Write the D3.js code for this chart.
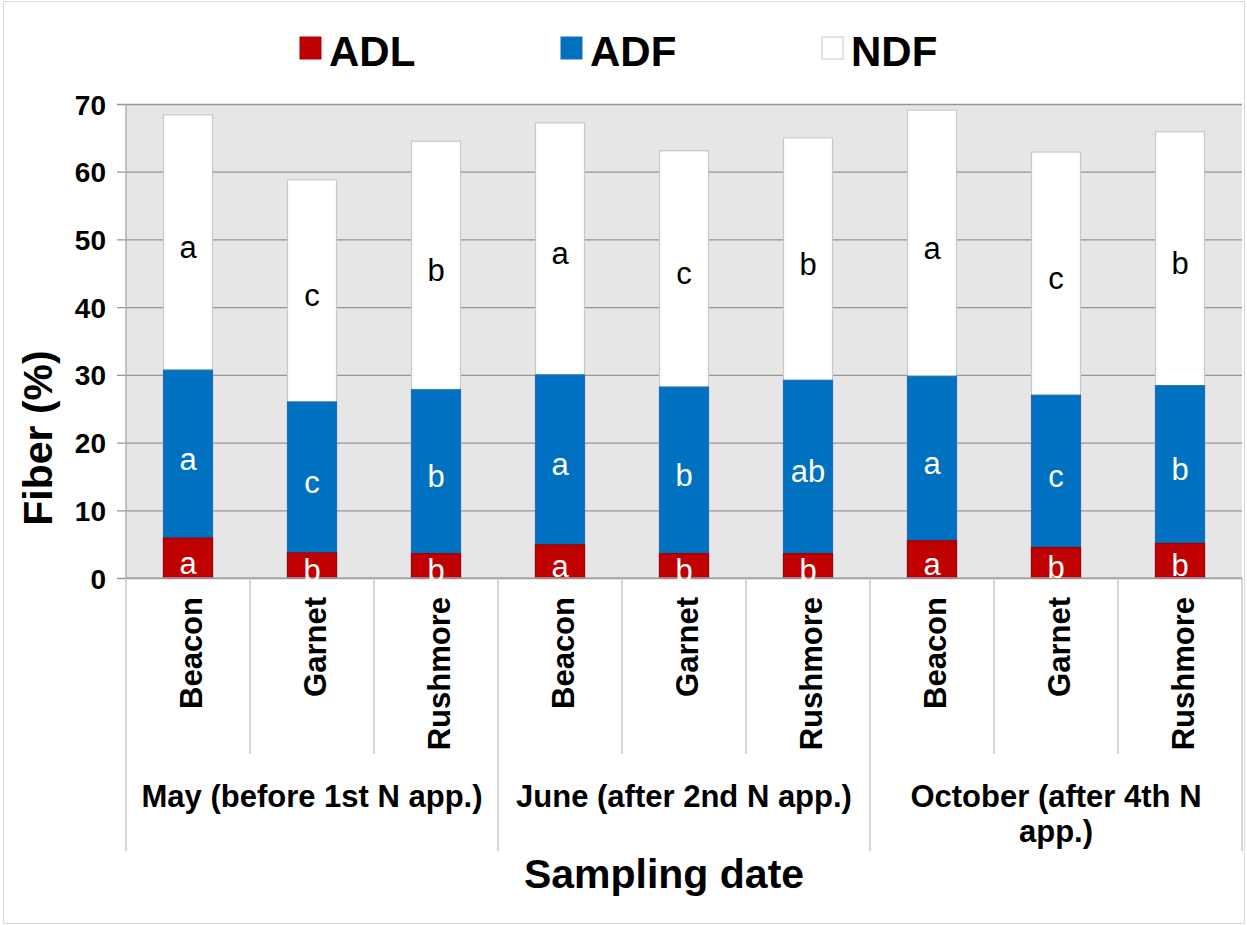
<!DOCTYPE html>
<html>
<head>
<meta charset="utf-8">
<script src="https://cdn.jsdelivr.net/npm/d3@7/dist/d3.min.js"></script>
<style>
  html, body { margin: 0; padding: 0; background: #fff; }
  svg { display: block; font-family: "Liberation Sans", Arial, sans-serif; }
</style>
</head>
<body>
<svg id="chart" width="1247" height="925"></svg>
<script>
// ---- data ----
const groups = ["May (before 1st N app.)", "June (after 2nd N app.)", "October (after 4th N app.)"];
const varieties = ["Beacon", "Garnet", "Rushmore"];
const seriesNames = ["ADL", "ADF", "NDF"];
const seriesColors = ["#C00000", "#0070C0", "#FFFFFF"];
const NDF = [68.4, 58.8, 64.5, 67.2, 63.1, 65.0, 69.1, 62.9, 65.9];
const ADF = [30.7, 26.0, 27.8, 30.0, 28.2, 29.2, 29.8, 27.0, 28.4];
const ADL = [5.9, 3.7, 3.6, 4.9, 3.6, 3.6, 5.5, 4.5, 5.1];
const NDFletters = ["a", "c", "b", "a", "c", "b", "a", "c", "b"];
const ADFletters = ["a", "c", "b", "a", "b", "ab", "a", "c", "b"];
const ADLletters = ["a", "b", "b", "a", "b", "b", "a", "b", "b"];
const yTicks = [0, 10, 20, 30, 40, 50, 60, 70];
const yTitle = "Fiber (%)";
const xTitle = "Sampling date";

// ---- layout ----
const svg = d3.select("#chart");
const L = 126, R = 1242, T = 104, B = 578;
const keys = [];
groups.forEach((g, gi) => varieties.forEach((v, vi) => keys.push(gi + "|" + vi)));
const rows = keys.map((k, i) => {
  const [gi, vi] = k.split("|").map(Number);
  return { key: k, gi, vi, variety: varieties[vi], NDF: NDF[i], ADF: ADF[i], ADL: ADL[i],
           lN: NDFletters[i], lF: ADFletters[i], lL: ADLletters[i] };
});

const x = d3.scaleBand().domain(keys).range([L, R]).paddingInner(0.605).paddingOuter(0.3025);
const y = d3.scaleLinear().domain([0, 70]).range([B, T]);
const step = x.step();

// outer border
svg.append("rect").attr("x", 3.5).attr("y", 1.5).attr("width", 1241).attr("height", 922)
  .attr("fill", "none").attr("stroke", "#d9d9d9").attr("stroke-width", 1);

// plot background
svg.append("rect").attr("x", L).attr("y", T).attr("width", R - L).attr("height", B - T).attr("fill", "#E6E6E6");

// gridlines + ticks via axis
const yAxis = d3.axisLeft(y).tickValues(yTicks).tickSize(-(R - L)).tickFormat(d3.format("d")).tickPadding(20);
const gy = svg.append("g").attr("transform", `translate(${L},0)`).call(yAxis);
gy.select(".domain").remove();
gy.selectAll(".tick line").attr("stroke", "#969696").attr("stroke-width", 1.3)
  .attr("x1", -9);
gy.selectAll(".tick text").attr("font-size", 28).attr("font-weight", "bold").attr("fill", "#000")
  .attr("font-family", "Liberation Sans, Arial, sans-serif").attr("dy", "0.36em");
// y axis line
svg.append("line").attr("x1", L).attr("x2", L).attr("y1", T).attr("y2", B).attr("stroke", "#a6a6a6").attr("stroke-width", 1.3);

// bars (overlapping, back to front)
const layers = [
  { name: "NDF", color: seriesColors[2], label: "lN", lo: "ADF", textColor: "#000" },
  { name: "ADF", color: seriesColors[1], label: "lF", lo: "ADL", textColor: "#fff" },
  { name: "ADL", color: seriesColors[0], label: "lL", lo: null, textColor: "#fff" }
];
layers.forEach(ly => {
  svg.append("g").selectAll("rect").data(rows).join("rect")
    .attr("x", d => x(d.key))
    .attr("width", x.bandwidth())
    .attr("y", d => y(d[ly.name]))
    .attr("height", d => y(0) - y(d[ly.name]))
    .attr("fill", ly.color)
    .attr("stroke", ly.name === "NDF" ? "#c8c8c8" : (ly.name === "ADF" ? "#1f6fb8" : "#a30000"))
    .attr("stroke-width", 1.2);
});
// x axis baseline
svg.append("line").attr("x1", L).attr("x2", R).attr("y1", B).attr("y2", B).attr("stroke", "#a6a6a6").attr("stroke-width", 1.3);

// labels
layers.forEach(ly => {
  svg.append("g").selectAll("text").data(rows).join("text")
    .attr("x", d => x(d.key) + x.bandwidth() / 2)
    .attr("y", d => (y(d[ly.name]) + y(ly.lo ? d[ly.lo] : 0)) / 2)
    .attr("dy", "0.5em")
    .attr("text-anchor", "middle")
    .attr("font-size", 31)
    .attr("fill", ly.textColor)
    .text(d => d[ly.label]);
});

// category area separators
const sepColor = "#c0c0c0";
const gBottom = 851, vBottom = 754;
keys.forEach((k, i) => {
  const xs = L + i * step;
  const isGroup = i % varieties.length === 0;
  svg.append("line").attr("x1", xs).attr("x2", xs).attr("y1", B).attr("y2", isGroup ? gBottom : vBottom)
    .attr("stroke", sepColor).attr("stroke-width", 1.3);
});
svg.append("line").attr("x1", R).attr("x2", R).attr("y1", B).attr("y2", gBottom)
  .attr("stroke", sepColor).attr("stroke-width", 1.3);

// variety labels (rotated)
svg.append("g").selectAll("text").data(rows).join("text")
  .attr("transform", d => `translate(${x(d.key) + x.bandwidth() / 2 + 14},597) rotate(-90)`)
  .attr("text-anchor", "end")
  .attr("font-size", 31).attr("font-weight", "bold")
  .text(d => d.variety);

// group labels with wrapping
const gw = step * varieties.length;
groups.forEach((g, gi) => {
  const cx = L + gw * gi + gw / 2;
  const t = svg.append("text").attr("x", cx).attr("y", 807).attr("text-anchor", "middle")
    .attr("font-size", 31).attr("font-weight", "bold");
  const words = g.split(" ");
  let line = [], lineNo = 0;
  let tspan = t.append("tspan").attr("x", cx).attr("y", 807);
  words.forEach(w => {
    line.push(w);
    tspan.text(line.join(" "));
    if (tspan.node().getComputedTextLength() > gw - 12 && line.length > 1) {
      line.pop();
      tspan.text(line.join(" "));
      line = [w];
      lineNo++;
      tspan = t.append("tspan").attr("x", cx).attr("y", 807 + lineNo * 35).text(w);
    }
  });
});

// axis titles
svg.append("text").attr("x", 664).attr("y", 888).attr("text-anchor", "middle")
  .attr("font-size", 41).attr("font-weight", "bold").text(xTitle);
svg.append("text").attr("transform", "translate(52,438) rotate(-90)").attr("text-anchor", "middle")
  .attr("font-size", 41).attr("font-weight", "bold").text(yTitle);

// legend
seriesNames.forEach((s, i) => {
  const lx = 300 + i * 261;
  svg.append("rect").attr("x", lx).attr("y", 37).attr("width", 21).attr("height", 22)
    .attr("fill", seriesColors[i]).attr("stroke", i === 2 ? "#c8c8c8" : (i === 0 ? "#a30000" : "#1f6fb8")).attr("stroke-width", 1);
  svg.append("text").attr("x", lx + 29).attr("y", 66).attr("font-size", 42).attr("font-weight", "bold").text(s);
});
</script>
</body>
</html>
